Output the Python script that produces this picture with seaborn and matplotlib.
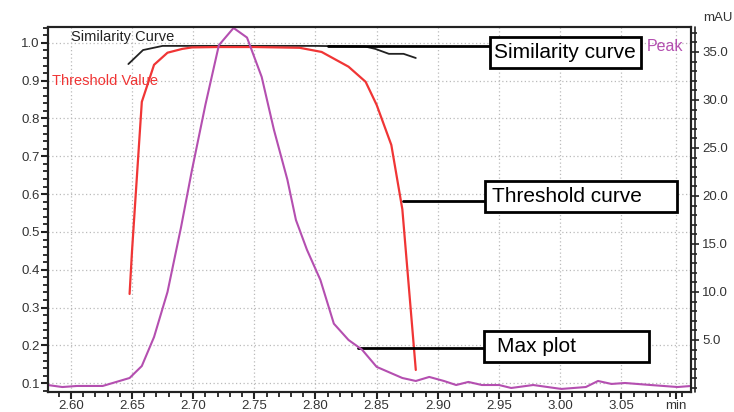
import matplotlib
matplotlib.use("Agg")
import matplotlib.pyplot as plt
from matplotlib.patches import Rectangle
from matplotlib.ticker import MultipleLocator
import seaborn as sns

sns.set_theme(style="white")
plt.rcParams['font.family'] = ['Liberation Sans', 'DejaVu Sans']

# retention time (min) and similarity (left axis)
sim_t = [2.647, 2.659, 2.675, 2.70, 2.75, 2.80, 2.841, 2.849, 2.860, 2.872, 2.882]
sim_v = [0.944, 0.981, 0.992, 0.992, 0.992, 0.992, 0.990, 0.984, 0.971, 0.971, 0.960]

# threshold curve (left axis)
thr_t = [2.648, 2.650, 2.658, 2.668, 2.679, 2.691, 2.699, 2.72, 2.75, 2.787,
         2.805, 2.827, 2.841, 2.850, 2.862, 2.871, 2.882]
thr_v = [0.336, 0.45, 0.844, 0.942, 0.974, 0.984, 0.988, 0.989, 0.989, 0.987,
         0.976, 0.937, 0.897, 0.836, 0.730, 0.560, 0.135]

# max plot (right axis, mAU)
max_t = [2.581, 2.593, 2.605, 2.626, 2.648, 2.658, 2.668, 2.679, 2.690, 2.699,
         2.710, 2.721, 2.733, 2.744, 2.756, 2.766, 2.777, 2.784, 2.793, 2.804,
         2.815, 2.827, 2.838, 2.850, 2.871, 2.882, 2.893, 2.905, 2.915, 2.925,
         2.936, 2.950, 2.960, 2.978, 3.001, 3.021, 3.031, 3.042, 3.053, 3.074,
         3.096, 3.106]
max_v = [0.31, 0.10, 0.21, 0.21, 1.04, 2.29, 5.31, 10.0, 16.7, 22.7,
         29.5, 35.7, 37.5, 36.5, 32.4, 26.9, 21.7, 17.5, 14.4, 11.25,
         6.7, 5.0, 4.0, 2.2, 1.04, 0.73, 1.15, 0.73, 0.31, 0.63,
         0.31, 0.31, 0.0, 0.31, -0.1, 0.1, 0.73, 0.42, 0.52, 0.31,
         0.1, 0.2]

x_ticks = [2.60, 2.65, 2.70, 2.75, 2.80, 2.85, 2.90, 2.95, 3.00, 3.05, 3.095]
x_labels = ["2.60", "2.65", "2.70", "2.75", "2.80", "2.85", "2.90", "2.95", "3.00", "3.05", "min"]
left_ticks = [0.1, 0.2, 0.3, 0.4, 0.5, 0.6, 0.7, 0.8, 0.9, 1.0]
right_ticks = [5, 10, 15, 20, 25, 30, 35]

RED = "#f03535"
PURPLE = "#b44fb0"
TXT = "#333333"

fig = plt.figure(figsize=(7.34, 4.12), dpi=100)
ax = fig.add_axes([0.0654, 0.0485, 0.876, 0.886])
ax2 = ax.twinx()

sns.lineplot(x=sim_t, y=sim_v, ax=ax, color="#222222", lw=1.3, estimator=None, sort=False)
sns.lineplot(x=thr_t, y=thr_v, ax=ax, color=RED, lw=1.6, estimator=None, sort=False)
sns.lineplot(x=max_t, y=max_v, ax=ax2, color=PURPLE, lw=1.5, estimator=None, sort=False)

ax.set_xlim(2.5813, 3.107)
ax.set_ylim(0.0767, 1.042)
ax2.set_ylim(-0.42, 37.6)

ax.set_xticks(x_ticks)
ax.set_xticklabels(x_labels)
ax.xaxis.set_minor_locator(MultipleLocator(0.01))
ax.set_yticks(left_ticks)
ax.set_yticklabels([f"{v:.1f}" for v in left_ticks])
ax.yaxis.set_minor_locator(MultipleLocator(0.02))
ax2.set_yticks(right_ticks)
ax2.set_yticklabels([f"{v:.1f}" for v in right_ticks])
ax2.yaxis.set_minor_locator(MultipleLocator(1))

ax.tick_params(axis="both", which="major", direction="out", length=5, width=1.5,
               colors="#222222", labelcolor=TXT, labelsize=9.5, pad=1)
ax.tick_params(axis="both", which="minor", direction="out", length=3.5, width=1.3, colors="#222222")
ax.tick_params(axis="x", which="both", bottom=True)
ax.tick_params(axis="y", which="both", left=True)
ax2.tick_params(axis="y", which="major", direction="out", length=6, width=1.2,
                colors="#222222", labelcolor=TXT, labelsize=9.5, pad=2, right=True)
ax2.tick_params(axis="y", which="minor", direction="out", length=4, width=1.2,
                colors="#222222", right=True)

for a in (ax, ax2):
    for s in a.spines.values():
        s.set_color("#222222")
        s.set_linewidth(1.5)

# outer ladder line on the right axis
ax.plot([1.0065, 1.0065], [0, 1], transform=ax.transAxes, color="#222222", lw=1.2, clip_on=False)

ax.grid(True, which="major", color="#bbbbbb", linestyle=(0, (1, 2)), linewidth=0.9)
ax.set_axisbelow(True)
ax2.grid(False)

# series labels
ax.text(2.6, 0.997, "Similarity Curve", color="#222222", fontsize=10.5, va="bottom")
ax.text(2.5845, 0.898, "Threshold Value", color=RED, fontsize=10.5, va="center")
ax2.text(3.0705, 35.6, "Peak", color=PURPLE, fontsize=11.5, va="center")
fig.text(0.958, 0.956, "mAU", color=TXT, fontsize=9.5, va="center")


def ax_x(px):
    return (px - 48) / 643.0


def ax_y(py):
    return (392 - py) / 365.0


# callout boxes with leader lines (pixel positions)
def callout(label, left, right, top, bottom, text_x, y_line, x_start):
    x0, y0 = ax_x(left), ax_y(bottom)
    w, h = ax_x(right) - x0, ax_y(top) - y0
    ax.add_patch(Rectangle((x0, y0), w, h, transform=ax.transAxes, fill=True,
                           facecolor="white", edgecolor="black", lw=2, zorder=5))
    ax.text(ax_x(text_x), y0 + h / 2, label, transform=ax.transAxes, fontsize=15,
            va="center", ha="left", color="black", zorder=6)
    ax.plot([ax_x(x_start), x0], [ax_y(y_line), ax_y(y_line)], transform=ax.transAxes,
            color="black", lw=2, zorder=4)


callout("Similarity curve", 490, 641, 37, 68, 494, 46, 328)
callout("Threshold curve", 485, 677, 181, 212, 492, 201, 403)
callout("Max plot", 484, 649, 331, 362, 497, 348, 358)

fig.savefig("out.png", dpi=100)
